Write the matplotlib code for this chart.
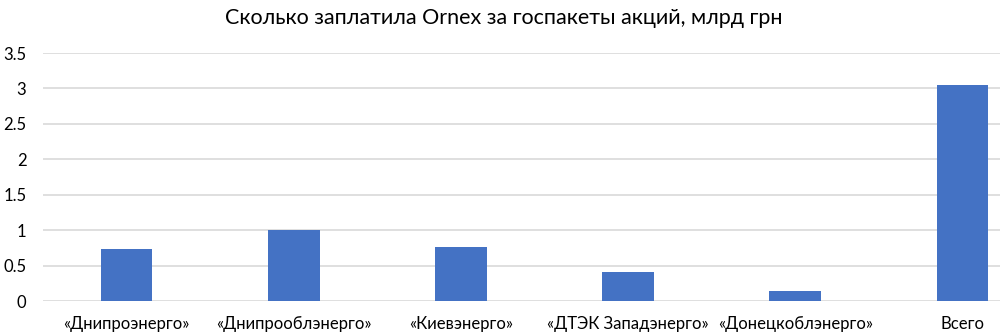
import matplotlib
matplotlib.use("Agg")
import matplotlib.pyplot as plt

categories = ["«Днипроэнерго»", "«Днипрооблэнерго»", "«Киевэнерго»",
              "«ДТЭК Западэнерго»", "«Донецкоблэнерго»", "Всего"]
values = [0.73, 1.0, 0.76, 0.41, 0.14, 3.05]
yticks = [0, 0.5, 1, 1.5, 2, 2.5, 3, 3.5]

plt.rcParams['font.family'] = ['Lato', 'DejaVu Sans']

fig = plt.figure(figsize=(10, 3.34), dpi=100)
# plot area runs past the right edge (cropped like the original)
ax = fig.add_axes([0.043, 0.0988, 1.003, 0.7425])

x = range(len(categories))
ax.bar(x, values, width=0.31, color="#4472C4", zorder=3)

ax.set_xlim(-0.5, len(categories) - 0.5)
ax.set_ylim(0, 3.5)
ax.set_yticks(yticks)
ax.set_yticklabels(["0", "0.5", "1", "1.5", "2", "2.5", "3", "3.5"], fontsize=12)
ax.set_xticks(list(x))
ax.set_xticklabels(categories, fontsize=12)
ax.tick_params(axis="x", length=0, pad=11)
ax.tick_params(axis="y", length=0, pad=12)
ax.yaxis.grid(True, color="#D9D9D9", linewidth=1.2, zorder=0)
for s in ax.spines.values():
    s.set_visible(False)

fig.text(0.504, 0.945, "Сколько заплатила Ornex за госпакеты акций, млрд грн",
         ha="center", va="center", fontsize=15.5)

fig.savefig("out.png", dpi=100)
